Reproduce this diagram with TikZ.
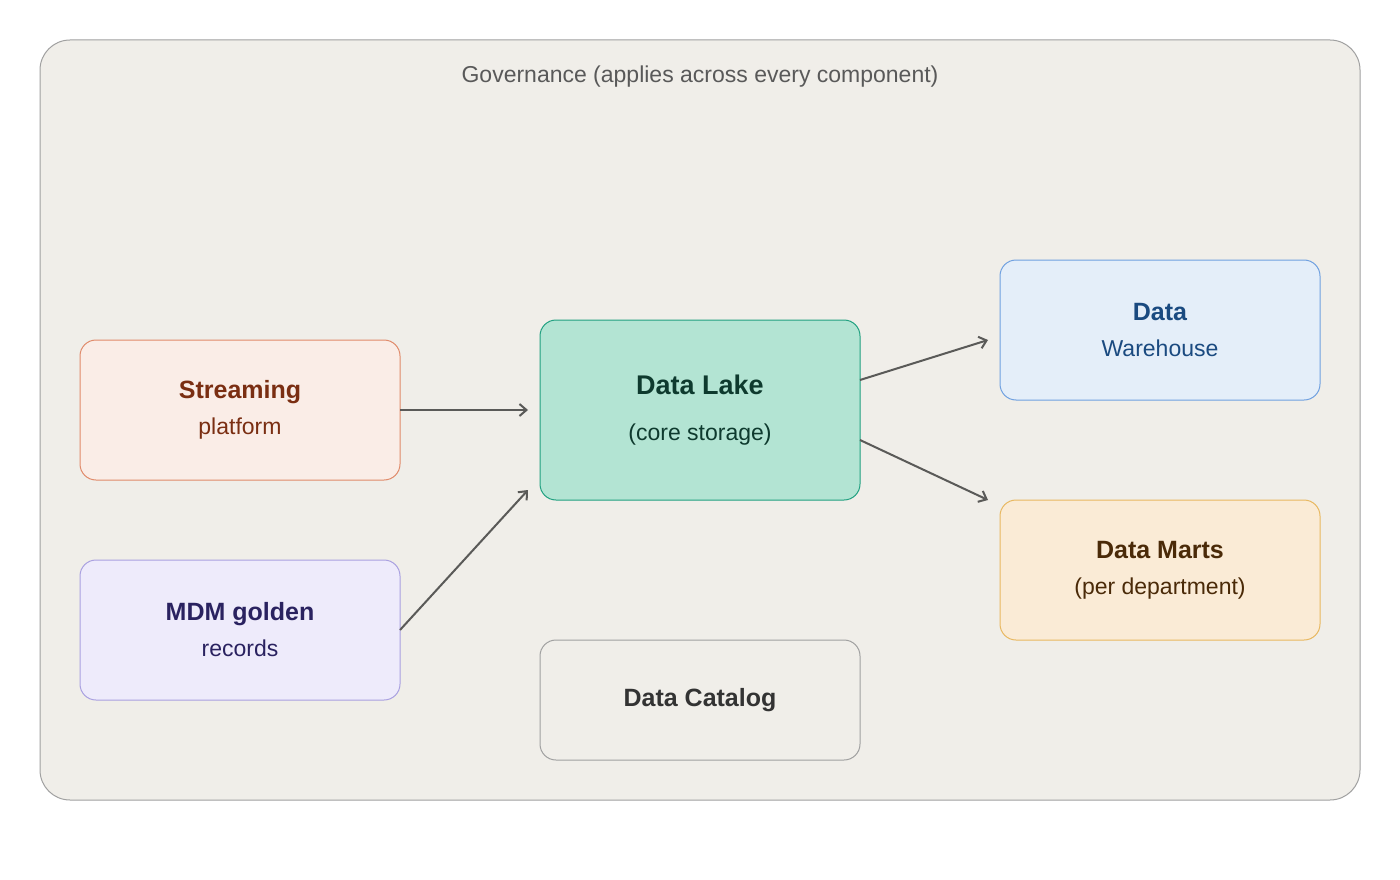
\documentclass[tikz,border=0pt]{standalone}
\usepackage{fontspec}
\setmainfont{Liberation Sans}
\usetikzlibrary{arrows.meta}
\definecolor{outf}{HTML}{F0EEE9}\definecolor{outd}{HTML}{A0A0A0}
\definecolor{stf}{HTML}{FAEDE7}\definecolor{std}{HTML}{E08A6A}\definecolor{stt}{HTML}{7A2E12}
\definecolor{mdf}{HTML}{EEEBFB}\definecolor{mdd}{HTML}{A9A0E0}\definecolor{mdt}{HTML}{2A2260}
\definecolor{lkf}{HTML}{B3E4D3}\definecolor{lkd}{HTML}{20A080}\definecolor{lkt}{HTML}{0E3A2E}
\definecolor{whf}{HTML}{E4EEF9}\definecolor{whd}{HTML}{6FA0E0}\definecolor{wht}{HTML}{1A4A80}
\definecolor{maf}{HTML}{FAEBD6}\definecolor{mad}{HTML}{E8B860}\definecolor{mat}{HTML}{4A2A08}
\definecolor{arr}{HTML}{5A5A58}
\begin{document}
\begin{tikzpicture}[x=1pt,y=-1pt,
 box/.style={draw,rounded corners=16pt,line width=1pt,align=center,font=\fontsize{23}{36}\selectfont,inner sep=0pt},
 ar/.style={draw=arr,line width=2pt,-{Straight Barb[length=7pt,width=12pt]}}]
\useasboundingbox (0,0) rectangle (1400,880);
\fill[white] (0,0) rectangle (1400,880);
\draw[fill=outf,draw=outd,line width=1pt,rounded corners=30pt] (40,40) rectangle (1360,800);
\node (gov) [text=black!65,font=\fontsize{23}{26}\selectfont] at (700,77) {Governance (applies across every component)};
\node (st) [box,fill=stf,draw=std,text=stt,minimum width=320pt,minimum height=140pt] at (240,410) {\textbf{\fontsize{25}{30}\selectfont Streaming}\\platform};
\node (md) [box,fill=mdf,draw=mdd,text=mdt,minimum width=320pt,minimum height=140pt] at (240,630) {\textbf{\fontsize{25}{30}\selectfont MDM golden}\\records};
\node (lk) [box,fill=lkf,draw=lkd,text=lkt,minimum width=320pt,minimum height=180pt,font=\fontsize{23}{46}\selectfont] at (700,410) {\textbf{\fontsize{27}{34}\selectfont Data Lake}\\(core storage)};
\node (wh) [box,fill=whf,draw=whd,text=wht,minimum width=320pt,minimum height=140pt] at (1160,330) {\textbf{\fontsize{25}{30}\selectfont Data}\\Warehouse};
\node (ma) [box,fill=maf,draw=mad,text=mat,minimum width=320pt,minimum height=140pt] at (1160,570) {\textbf{\fontsize{25}{30}\selectfont Data Marts}\\(per department)};
\node (ca) [box,fill=outf,draw=outd,text=black!80,minimum width=320pt,minimum height=120pt] at (700,700) {\textbf{\fontsize{25}{30}\selectfont Data Catalog}};
\coordinate (a1) at (528,410); \coordinate (a2) at (528,490);
\coordinate (a3) at (988,340); \coordinate (a4) at (988,500);
\coordinate (s1) at (400,410); \coordinate (s2) at (400,630);
\coordinate (s3) at (860,380); \coordinate (s4) at (860,440);
\draw[ar] (s1) -- (a1);
\draw[ar] (s2) -- (a2);
\draw[ar] (s3) -- (a3);
\draw[ar] (s4) -- (a4);
\end{tikzpicture}
\end{document}
